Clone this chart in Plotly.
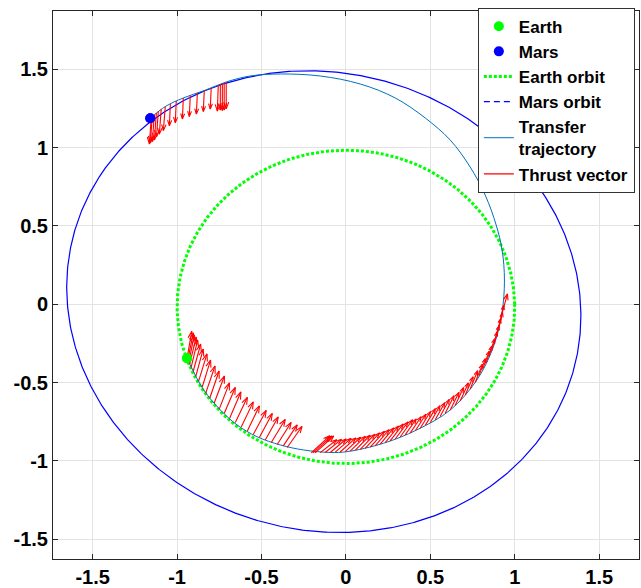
import numpy as np
import plotly.graph_objects as go
import plotly.figure_factory as ff

# ---------------- data ----------------
earth_pos = [-0.941, -0.345]
mars_pos = [-1.159, 1.187]

# Earth orbit (Kepler ellipse): semi-major axis, eccentricity, perihelion angle (deg)
earth_orbit_a = 1.0
earth_orbit_e = 0.0167
earth_orbit_w = 90.0

# Mars orbit (ellipse): centre, semi-axes, tilt (deg)
mars_orbit_cx = -0.131
mars_orbit_cy = 0.017
mars_orbit_A = 1.550
mars_orbit_B = 1.445
mars_orbit_tilt = 149.0

# Transfer trajectory points
traj_x = [-0.941, -0.843, -0.744, -0.645, -0.527, -0.389, -0.251, -0.093, 0.006, 0.223,
          0.420, 0.618, 0.776, 0.874, 0.924, 0.939, 0.925, 0.890, 0.825, 0.736,
          0.618, 0.470, 0.292, 0.085, -0.152, -0.389, -0.567, -0.709, -0.839, -0.963,
          -1.070, -1.159]
traj_y = [-0.345, -0.546, -0.674, -0.770, -0.845, -0.898, -0.930, -0.946, -0.941, -0.887,
          -0.802, -0.675, -0.483, -0.271, -0.057, 0.155, 0.347, 0.506, 0.697, 0.876,
          1.048, 1.189, 1.317, 1.406, 1.457, 1.470, 1.457, 1.419, 1.364, 1.317,
          1.262, 1.187]

# Thrust vectors: departure arc
depart_x = [-0.941, -0.937, -0.931, -0.925, -0.916, -0.904, -0.889, -0.872, -0.851, -0.830,
            -0.806, -0.780, -0.750, -0.721, -0.688, -0.655, -0.620, -0.584, -0.549, -0.513,
            -0.478, -0.442, -0.407, -0.371, -0.348]
depart_y = [-0.345, -0.355, -0.368, -0.381, -0.400, -0.426, -0.458, -0.489, -0.528, -0.566,
            -0.598, -0.630, -0.668, -0.697, -0.726, -0.754, -0.783, -0.809, -0.831, -0.850,
            -0.866, -0.882, -0.895, -0.904, -0.914]
depart_u = [0.030, 0.036, 0.036, 0.041, 0.041, 0.047, 0.047, 0.053, 0.053, 0.059,
            0.059, 0.065, 0.065, 0.071, 0.071, 0.077, 0.077, 0.077, 0.083, 0.083,
            0.083, 0.089, 0.089, 0.089, 0.095]
depart_v = [0.172, 0.172, 0.172, 0.172, 0.172, 0.172, 0.172, 0.172, 0.172, 0.172,
            0.172, 0.172, 0.166, 0.166, 0.166, 0.160, 0.160, 0.160, 0.153, 0.153,
            0.147, 0.147, 0.140, 0.134, 0.134]

# Thrust vectors: second burn arc
burn_x = [-0.205, -0.194, -0.182, -0.152, -0.123, -0.093, -0.063, -0.034, -0.004, 0.025,
          0.055, 0.085, 0.114, 0.144, 0.173, 0.203, 0.233, 0.262, 0.292, 0.321,
          0.351, 0.381, 0.411, 0.440, 0.470, 0.499, 0.529, 0.558, 0.588, 0.618,
          0.647, 0.677, 0.707, 0.736, 0.766, 0.789, 0.813, 0.830, 0.848, 0.866,
          0.878, 0.890, 0.902, 0.911, 0.919]
burn_y = [-0.948, -0.949, -0.949, -0.947, -0.946, -0.946, -0.944, -0.943, -0.941, -0.937,
          -0.932, -0.927, -0.920, -0.912, -0.904, -0.893, -0.883, -0.872, -0.860, -0.847,
          -0.834, -0.821, -0.807, -0.791, -0.773, -0.756, -0.737, -0.717, -0.696, -0.675,
          -0.646, -0.617, -0.579, -0.541, -0.499, -0.454, -0.407, -0.375, -0.330, -0.285,
          -0.247, -0.202, -0.164, -0.119, -0.081]
burn_u = [0.118, 0.118, 0.118, 0.105, 0.104, 0.102, 0.101, 0.100, 0.098, 0.097,
          0.095, 0.094, 0.092, 0.091, 0.089, 0.087, 0.085, 0.084, 0.082, 0.080,
          0.071, 0.070, 0.068, 0.066, 0.065, 0.063, 0.061, 0.059, 0.057, 0.056,
          0.054, 0.052, 0.050, 0.048, 0.046, 0.040, 0.038, 0.037, 0.035, 0.033,
          0.031, 0.029, 0.028, 0.026, 0.041]
burn_v = [0.108, 0.108, 0.108, 0.082, 0.084, 0.086, 0.088, 0.090, 0.092, 0.094,
          0.096, 0.098, 0.099, 0.101, 0.103, 0.104, 0.106, 0.108, 0.109, 0.110,
          0.102, 0.103, 0.105, 0.106, 0.107, 0.108, 0.109, 0.110, 0.112, 0.113,
          0.114, 0.115, 0.116, 0.117, 0.117, 0.107, 0.107, 0.108, 0.109, 0.109,
          0.110, 0.110, 0.111, 0.112, 0.147]

# Thrust vectors: arrival (braking) arc
arrive_x = [-0.709, -0.721, -0.732, -0.744, -0.756, -0.798, -0.839, -0.880, -0.922, -0.963,
            -1.005, -1.040, -1.070, -1.094, -1.111, -1.123, -1.135, -1.147, -1.153]
arrive_y = [1.419, 1.412, 1.409, 1.406, 1.399, 1.380, 1.364, 1.348, 1.332, 1.317,
            1.298, 1.279, 1.262, 1.246, 1.234, 1.221, 1.211, 1.202, 1.195]
arrive_u = [0.0, 0.0, 0.0, 0.0, -0.006, -0.006, -0.006, -0.006, -0.006, -0.006,
            -0.006, -0.006, -0.012, -0.012, -0.012, -0.012, -0.012, -0.012, -0.012]
arrive_v = [-0.172, -0.172, -0.172, -0.166, -0.166, -0.134, -0.134, -0.134, -0.134, -0.134,
            -0.140, -0.140, -0.153, -0.160, -0.166, -0.172, -0.172, -0.172, -0.172]

x_ticks = [-1.5, -1, -0.5, 0, 0.5, 1, 1.5]
x_tick_text = ["-1.5", "-1", "-0.5", "0", "0.5", "1", "1.5"]
y_ticks = [-1.5, -1, -0.5, 0, 0.5, 1, 1.5]
y_tick_text = ["-1.5", "-1", "-0.5", "0", "0.5", "1", "1.5"]
x_range = [-1.735, 1.736]
y_range = [-1.626, 1.872]

# ---------------- build figure ----------------
th = np.linspace(0, 2 * np.pi, 721)

p_e = earth_orbit_a * (1 - earth_orbit_e ** 2)
r_e = p_e / (1 + earth_orbit_e * np.cos(th - np.radians(earth_orbit_w)))
ex, ey = r_e * np.cos(th), r_e * np.sin(th)

tl = np.radians(mars_orbit_tilt)
mx0 = mars_orbit_A * np.cos(th)
my0 = mars_orbit_B * np.sin(th)
mx = mars_orbit_cx + mx0 * np.cos(tl) - my0 * np.sin(tl)
my = mars_orbit_cy + mx0 * np.sin(tl) + my0 * np.cos(tl)

qx = depart_x + burn_x + arrive_x
qy = depart_y + burn_y + arrive_y
qu = depart_u + burn_u + arrive_u
qv = depart_v + burn_v + arrive_v

px_x = (641 - 53 - 2) / (x_range[1] - x_range[0])
px_y = (588 - 11 - 29) / (y_range[1] - y_range[0])
quiv = ff.create_quiver(qx, qy, qu, qv, scale=1, arrow_scale=0.27, angle=np.pi / 9,
                        scaleratio=px_y / px_x)
qtrace = quiv.data[0]

fig = go.Figure()
fig.add_trace(go.Scatter(x=[earth_pos[0]], y=[earth_pos[1]], mode="markers", name="Earth",
                         marker=dict(color="#00ff00", size=10)))
fig.add_trace(go.Scatter(x=[mars_pos[0]], y=[mars_pos[1]], mode="markers", name="Mars",
                         marker=dict(color="#0000ff", size=10)))
fig.add_trace(go.Scatter(x=ex, y=ey, mode="lines", name="Earth orbit",
                         line=dict(color="#00ff00", width=3, dash="3px,2px")))
fig.add_trace(go.Scatter(x=mx, y=my, mode="lines", name="Mars orbit", showlegend=False,
                         line=dict(color="#0000ff", width=1.2)))
fig.add_trace(go.Scatter(x=[None], y=[None], mode="lines", name="Mars orbit",
                         line=dict(color="#0000ff", width=1.2, dash="6px,4px")))
fig.add_trace(go.Scatter(x=traj_x, y=traj_y, mode="lines", name="Transfer<br>trajectory",
                         line=dict(color="#0072BD", width=1, shape="spline", smoothing=1)))
fig.add_trace(go.Scatter(x=qtrace.x, y=qtrace.y, mode="lines", name="Thrust vector",
                         line=dict(color="#ff0000", width=1.1)))
# re-draw markers on top
fig.add_trace(go.Scatter(x=[earth_pos[0]], y=[earth_pos[1]], mode="markers", showlegend=False,
                         marker=dict(color="#00ff00", size=10)))
fig.add_trace(go.Scatter(x=[mars_pos[0]], y=[mars_pos[1]], mode="markers", showlegend=False,
                         marker=dict(color="#0000ff", size=10)))

axis_common = dict(showgrid=True, gridcolor="#e3e3e3", gridwidth=1, zeroline=False,
                   showline=True, linecolor="#262626", linewidth=1, mirror="ticks",
                   ticks="inside", ticklen=5, tickcolor="#262626", automargin=False,
                   tickfont=dict(family="Liberation Sans", size=20, color="#000000", weight="bold"))
fig.update_layout(
    width=641, height=588,
    margin=dict(l=53, r=2, t=11, b=29, autoexpand=False),
    paper_bgcolor="white", plot_bgcolor="white",
    xaxis=dict(range=x_range, tickvals=x_ticks, ticktext=x_tick_text, **axis_common),
    yaxis=dict(range=y_range, tickvals=y_ticks, ticktext=y_tick_text, **axis_common),
    legend=dict(x=0.725, y=1.006, xanchor="left", yanchor="top",
                bgcolor="white", bordercolor="#333333", borderwidth=1,
                font=dict(family="Liberation Sans", size=17, color="#000000", weight="bold"),
                tracegroupgap=0),
    showlegend=True,
)
fig.write_html("out.html", config={"displayModeBar": False},
               post_script="document.body.style.margin='0px';document.body.style.padding='0px';document.body.style.overflow='hidden';")
